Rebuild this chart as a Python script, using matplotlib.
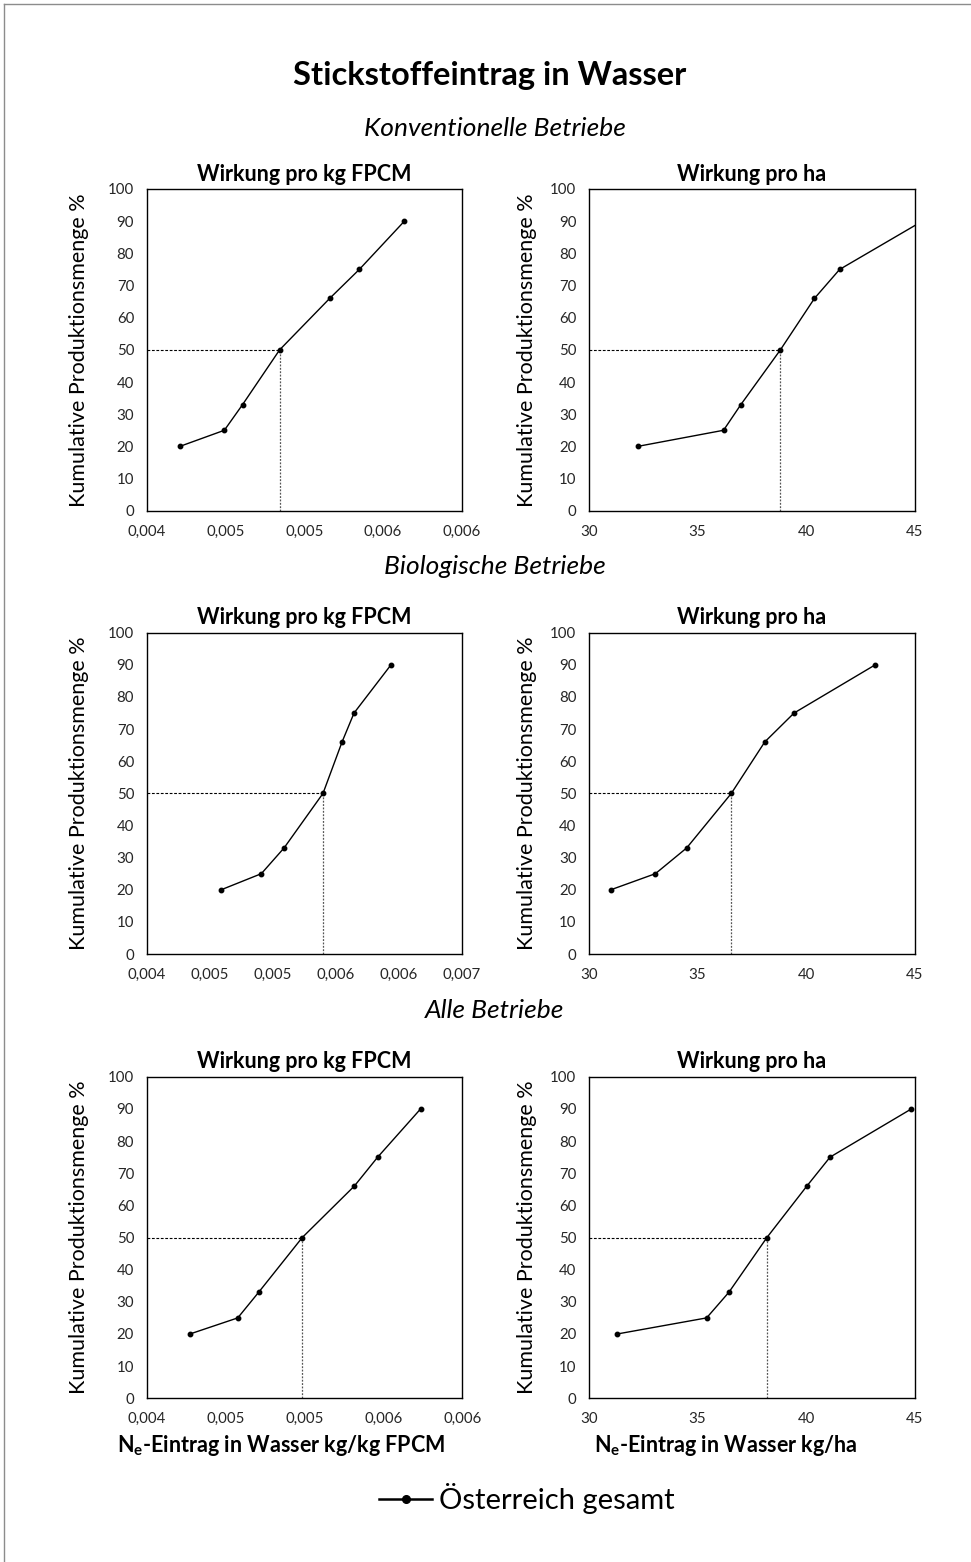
import matplotlib
matplotlib.use("Agg")
from matplotlib import pyplot as plt
from matplotlib.ticker import FuncFormatter, MultipleLocator
from matplotlib.lines import Line2D
from decimal import Decimal, ROUND_HALF_UP

plt.rcParams["font.family"] = ["Lato", "DejaVu Sans"]
plt.rcParams["mathtext.fontset"] = "custom"
plt.rcParams["mathtext.rm"] = "Lato"
plt.rcParams["mathtext.bf"] = "Lato:bold"

# cumulative production share (%) for every curve
anteil = [20, 25, 33, 50, 66, 75, 90]

# N-Eintrag per kg FPCM and per ha
konv_kg = [0.004211, 0.004493, 0.004609, 0.004844, 0.005162, 0.005350, 0.005636]
konv_ha = [32.25, 36.20, 37.00, 38.82, 40.39, 41.55, 45.36]
bio_kg = [0.004591, 0.004909, 0.005089, 0.005398, 0.005549, 0.005644, 0.005937]
bio_ha = [31.01, 33.06, 34.50, 36.56, 38.10, 39.45, 43.19]
alle_kg = [0.004274, 0.004577, 0.004710, 0.004986, 0.005316, 0.005464, 0.005736]
alle_ha = [31.30, 35.42, 36.45, 38.20, 40.04, 41.11, 44.86]

gruppen = ["Konventionelle Betriebe", "Biologische Betriebe", "Alle Betriebe"]
kg_xlim = [(0.004, 0.006), (0.004, 0.0065), (0.004, 0.006)]
ha_xlim = (30, 45)

W, H = 971, 1562
fig = plt.figure(figsize=(W / 100, H / 100), dpi=100)


def rect(l, r, t, b):
    return [l / W, 1 - b / H, (r - l) / W, (b - t) / H]


def fmt_kg(v, pos):
    d = Decimal(str(round(v, 6))).quantize(Decimal("0.001"), rounding=ROUND_HALF_UP)
    return str(d).replace(".", ",")


def draw_panel(ax, x, title, xlim, kg):
    ax.plot(x, anteil, color="black", lw=1.0, marker="o", ms=3.2, zorder=3)
    x50 = x[anteil.index(50)]
    ax.plot([xlim[0], x50], [50, 50], color="black", lw=0.8, ls=(0, (2.5, 1.5)))
    ax.plot([x50, x50], [0, 50], color="#555555", lw=0.9, ls=(0, (1.5, 1.2)))
    ax.set_xlim(*xlim)
    ax.set_ylim(0, 100)
    ax.yaxis.set_major_locator(MultipleLocator(10))
    if kg:
        ax.xaxis.set_major_locator(MultipleLocator(0.0005))
        ax.xaxis.set_major_formatter(FuncFormatter(fmt_kg))
    else:
        ax.xaxis.set_major_locator(MultipleLocator(5))
    ax.tick_params(length=0, labelsize=10.8, colors="#262626")
    ax.tick_params(axis="y", pad=9)
    ax.tick_params(axis="x", pad=10)
    for s in ax.spines.values():
        s.set_linewidth(1.0)
    ax.set_title(title, fontsize=15.5, fontweight="bold", pad=6)


rows = [
    (189, 510.7, konv_kg, konv_ha),
    (632.7, 954, bio_kg, bio_ha),
    (1076.7, 1398.3, alle_kg, alle_ha),
]
sub_y = [128, 567, 1011]
left_r = [461.7, 462, 462.3]

for i, (t, b, xk, xh) in enumerate(rows):
    ax1 = fig.add_axes(rect(146.7, left_r[i], t, b))
    draw_panel(ax1, xk, "Wirkung pro kg FPCM", kg_xlim[i], True)
    ax2 = fig.add_axes(rect(589, 914.5, t, b))
    draw_panel(ax2, xh, "Wirkung pro ha", ha_xlim, False)
    yc = 1 - (t + b) / 2 / H
    fig.text(79 / W, yc, "Kumulative Produktionsmenge %", rotation=90,
             ha="center", va="center", fontsize=15.5)
    fig.text(527 / W, yc, "Kumulative Produktionsmenge %", rotation=90,
             ha="center", va="center", fontsize=15.5)
    fig.text(495 / W, 1 - sub_y[i] / H, gruppen[i], ha="center", va="center",
             fontsize=19, style="italic")

fig.text(490 / W, 1 - 76 / H, "Stickstoffeintrag in Wasser", ha="center",
         va="center", fontsize=23.5, fontweight="bold")

fig.text(281 / W, 1 - 1445 / H, "N$_{\\mathbf{e}}$-Eintrag in Wasser kg/kg FPCM",
         ha="center", va="center", fontsize=15.5, fontweight="bold")
fig.text(726 / W, 1 - 1445 / H, "N$_{\\mathbf{e}}$-Eintrag in Wasser kg/ha",
         ha="center", va="center", fontsize=15.5, fontweight="bold")

handle = Line2D([], [], color="black", lw=1.8, marker="o", ms=5.5)
fig.legend([handle], ["Österreich gesamt"], loc="center",
           bbox_to_anchor=(527 / W, 1 - 1499 / H), frameon=False,
           fontsize=21, handlelength=1.8, handletextpad=0.25)

# outer frame of the chart (only left and top edges are visible)
fig.add_artist(Line2D([4 / W, 4 / W], [0, 1 - 4 / H], color="#8c8c8c", lw=1.0))
fig.add_artist(Line2D([4 / W, 1], [1 - 4 / H, 1 - 4 / H], color="#8c8c8c", lw=1.0))

fig.savefig("out.png", dpi=100, facecolor="white")
